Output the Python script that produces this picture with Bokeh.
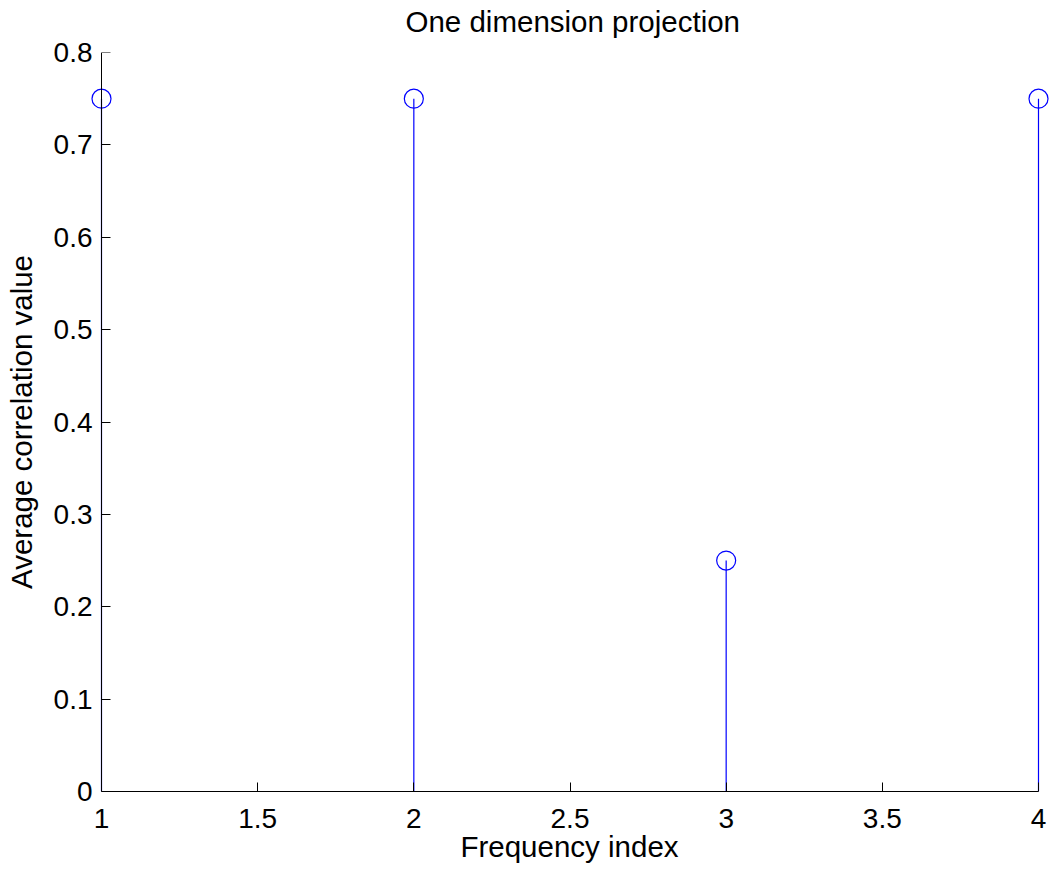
from bokeh.plotting import figure
from bokeh.models import (Range1d, FixedTicker, CustomJSTickFormatter, Title, LinearAxis)
from bokeh.embed import file_html
from bokeh.resources import INLINE

# ---- data ----
freq_index = [1, 2, 3, 4]
avg_corr = [0.75, 0.75, 0.25, 0.75]
stem_base = [0, 0, 0, 0]

x_ticks = [1, 1.5, 2, 2.5, 3, 3.5, 4]
x_tick_labels = ["1", "1.5", "2", "2.5", "3", "3.5", "4"]
y_ticks = [0, 0.1, 0.2, 0.3, 0.4, 0.5, 0.6, 0.7, 0.8]
y_tick_labels = ["0", "0.1", "0.2", "0.3", "0.4", "0.5", "0.6", "0.7", "0.8"]

title_text = "One dimension projection"
x_label = "Frequency index"
y_label = "Average correlation value"

# ---- layout (pixels) ----
W, H = 1049, 869
frame_left, frame_right = 89, 1049
axis_left_px, axis_right_px = 101, 1038
frame_top, frame_bottom = 52, 791

ppu = (axis_right_px - axis_left_px) / (x_ticks[-1] - x_ticks[0])
x_start = x_ticks[0] - (axis_left_px - frame_left) / ppu
x_end = x_ticks[-1] + (frame_right - axis_right_px) / ppu

FONT = "Liberation Sans"

p = figure(width=W, height=H, output_backend="svg", toolbar_location=None,
           x_range=Range1d(x_start, x_end), y_range=Range1d(y_ticks[0], y_ticks[-1]),
           min_border_left=frame_left, min_border_right=W - frame_right,
           min_border_top=frame_top, min_border_bottom=H - frame_bottom,
           x_axis_location=None, y_axis_location=None, title_location=None)

# spacer between frame and title, then the title itself
p.add_layout(Title(text=" ", text_font=FONT, text_font_size="10px", standoff=0), "above")
p.add_layout(Title(text=title_text, align="left", offset=316, vertical_align="bottom",
                   text_font=FONT, text_font_size="29.5px", text_font_style="normal",
                   text_color="black", standoff=4), "above")

p.outline_line_color = None
p.background_fill_color = "white"
p.border_fill_color = "white"

fmt_code = """
let found = -1;
for (let k = 0; k < tvals.length; k++) { if (Math.abs(tvals[k] - tick) < 1e-9) { found = k; } }
return found >= 0 ? tlabels[found] : String(tick);
"""

def style(ax):
    ax.axis_line_color = "black"
    ax.axis_line_width = 1
    ax.major_tick_line_color = "black"
    ax.major_tick_line_width = 1
    ax.major_tick_in = 9
    ax.major_tick_out = 0
    ax.minor_tick_line_color = None
    ax.major_label_text_font = FONT
    ax.major_label_text_font_size = "28px"
    ax.major_label_text_color = "black"
    ax.axis_label_text_font = FONT
    ax.axis_label_text_font_size = "29.5px"
    ax.axis_label_text_font_style = "normal"
    ax.axis_label_text_color = "black"

# x axis: regular bottom axis, line limited to the data span
xaxis = LinearAxis(bounds=(x_ticks[0], x_ticks[-1]),
                   ticker=FixedTicker(ticks=x_ticks),
                   formatter=CustomJSTickFormatter(args=dict(tvals=x_ticks, tlabels=x_tick_labels), code=fmt_code),
                   axis_label=x_label)
style(xaxis)
xaxis.major_label_standoff = 17
xaxis.axis_label_standoff = -1

# y axis line + ticks drawn at x = 1
yaxis_line = LinearAxis(fixed_location=x_ticks[0], bounds=(y_ticks[0], y_ticks[-1]),
                        ticker=FixedTicker(ticks=y_ticks),
                        formatter=CustomJSTickFormatter(args=dict(tvals=y_ticks, tlabels=y_tick_labels), code=fmt_code))
style(yaxis_line)
yaxis_line.major_label_text_color = None

# y axis labels only (regular left axis at frame edge)
yaxis_lab = LinearAxis(ticker=FixedTicker(ticks=y_ticks),
                       formatter=CustomJSTickFormatter(args=dict(tvals=y_ticks, tlabels=y_tick_labels), code=fmt_code),
                       axis_label=y_label)
style(yaxis_lab)
yaxis_lab.axis_line_color = None
yaxis_lab.major_tick_line_color = None
yaxis_lab.major_tick_in = 0
yaxis_lab.major_label_standoff = -3
yaxis_lab.axis_label_standoff = 13

p.add_layout(xaxis, "below")
p.add_layout(yaxis_lab, "left")
p.add_layout(yaxis_line, "left")

p.xgrid.visible = False
p.ygrid.visible = False

# stems
p.segment(x0=freq_index, y0=stem_base, x1=freq_index, y1=avg_corr,
          line_color="#0000ff", line_width=1.2)
# markers
p.scatter(x=freq_index, y=avg_corr, marker="circle", size=19,
          fill_color=None, line_color="#0000ff", line_width=1.2)

open("out.html", "w").write(file_html(p, INLINE))
